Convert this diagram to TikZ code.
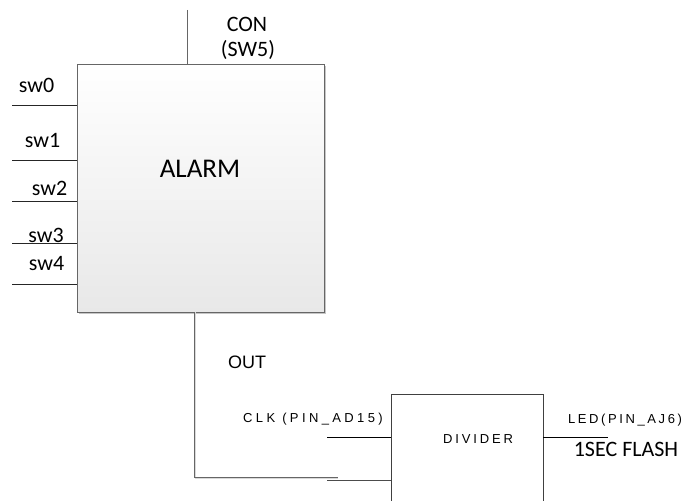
\documentclass[tikz,border=0pt]{standalone}
\usepackage{fontspec}
\setmainfont{Carlito}
\newfontfamily\arialf{Liberation Sans}
\newfontfamily\arialsp{Liberation Sans}
\usetikzlibrary{shadows}
\begin{document}
\begin{tikzpicture}[x=1pt,y=-1pt,
  wire/.style={black,line width=0.8pt},
  graywire/.style={draw=gray!80!black,line width=1pt},
  calib/.style={font=\fontsize{22}{24}\selectfont,inner sep=0pt,anchor=base},
  spaced/.style={font=\arialsp\addfontfeature{LetterSpace=#1}\fontsize{13}{15}\selectfont,inner sep=0pt,anchor=base},
  alarmbox/.style={draw=gray!80!black,line width=0.9pt,top color=white,bottom color=gray!18,
    drop shadow={shadow xshift=1.6pt,shadow yshift=-1.6pt,fill=gray!45,opacity=1},
    minimum width=247pt,minimum height=248pt,inner sep=0pt},
  divbox/.style={draw=black!75,line width=0.9pt,fill=white,minimum width=152pt,minimum height=130pt,inner sep=0pt}]
\useasboundingbox (0,0) rectangle (687,500);
\clip (0,0) rectangle (687,500);
% boxes
\node[alarmbox] (alarm) at (200.5,188) {};
\node[divbox] (divider) at (467,459) {};
\node[font=\fontsize{27}{30}\selectfont,inner sep=0pt,anchor=base] (alarmtxt) at (200,177) {ALARM};
\node[spaced=22] (divtxt) at (478,443) {DIVIDER};
% top wire
\coordinate (conT) at (187.7,10);
\draw[graywire] (conT) -- (conT |- alarm.north);
\node[calib] (con) at (247,32) {CON};
\node[calib] (sw5) at (248,57) {(SW5)};
% left stubs
\foreach \n/\y in {0/105,1/160,2/201,3/243,4/284}{
  \coordinate (s\n) at (12,\y);
  \draw[wire,black!85] (s\n) -- (s\n -| alarm.west);
}
\node[calib] (l0) at (36.5,93) {sw0};
\node[calib] (l1) at (42.5,147) {sw1};
\node[calib] (l2) at (49.5,195) {sw2};
\node[calib] (l3) at (46,242) {sw3};
\node[calib] (l4) at (46.5,270) {sw4};
% out wire
\coordinate (outB) at (194,477);
\coordinate (outE) at (338,477);
\draw[gray!30,line width=1pt] ([shift={(1.5,0)}]outB |- alarm.south) -- ([shift={(1.5,1.5)}]outB) -- ([shift={(0,1.5)}]outE);
\draw[graywire] (outB |- alarm.south) -- (outB) -- (outE);
\node[font=\arialf\fontsize{18}{20}\selectfont,inner sep=0pt,anchor=base] (out) at (247,368) {OUT};
% clk wires
\coordinate (c1) at (327,437);
\coordinate (c2) at (327,480.5);
\draw[wire] (c1) -- (c1 -| divider.west);
\draw[wire,black!70] (c2) -- (c2 -| divider.west);
\node[spaced=26] (clk) at (313,422) {CLK (PIN\_AD15)};
% led wire
\coordinate (ledE) at (608,437);
\draw[wire] (ledE -| divider.east) -- (ledE);
\node[spaced=20] (led) at (625,423) {LED(PIN\_AJ6)};
\node[calib] (flash) at (626,456) {1SEC FLASH};
\end{tikzpicture}
\end{document}
